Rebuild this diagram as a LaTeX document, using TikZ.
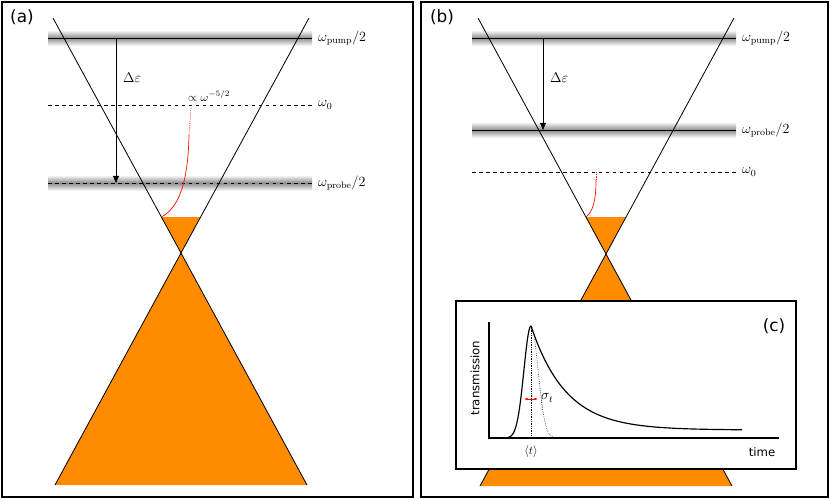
\documentclass[tikz,border=0pt]{standalone}
\usepackage{fontspec}
\newfontfamily\dejavu{DejaVu Sans}
\definecolor{org}{RGB}{255,140,0}
\usetikzlibrary{arrows.meta}
\begin{document}
\begin{tikzpicture}[x=0.03cm,y=-0.03cm,
  frame/.style={draw=black,line width=1.1pt},
  ln/.style={line width=0.7pt},
  lab/.style={anchor=west,inner sep=0pt,font=\large},
  plab/.style={font=\dejavu\Large,inner sep=0pt},
  band/.style={top color=white,bottom color=white,middle color=black!45}]
\useasboundingbox (0,0) rectangle (830,500);
\fill[white] (0,0) rectangle (830,500);
% ---------- panel (a)
\fill[org] (181,253) -- (55,485) -- (307,485) -- cycle;
\fill[org] (181,253) -- (161.4,217) -- (200.6,217) -- cycle;
\shade[band] (48,30) rectangle (312,46);
\shade[band] (48,175) rectangle (312,191);
\draw[ln] (48,38) -- (312,38);
\draw[ln,dashed] (48,105) -- (312,105);
\draw[ln,dashed] (48,183) -- (312,183);
\draw[ln] (53,18) -- (181,253) -- (55,485);
\draw[ln] (309,18) -- (181,253) -- (307,485);
\draw[ln,-{Triangle[length=6pt,width=5pt]}] (116,38) -- (116,183);
\node[lab] (de1) at (123,78) {$\Delta\varepsilon$};
\draw[red!90!orange,line width=0.6pt] (161.4,217) .. controls (178,208) and (188,185) .. (189,135);
\draw[red!90!orange,line width=0.6pt,densely dotted] (189,135) -- (191,108);
\node[lab,font=\normalsize] (pw) at (188,96) {$\propto\omega^{-5/2}$};
\node[lab] (pa) at (318,38) {$\omega_{\mathrm{pump}}/2$};
\node[lab] (oa) at (318,105) {$\omega_0$};
\node[lab] (ra) at (318,183) {$\omega_{\mathrm{probe}}/2$};
\node[plab] (la) at (22,17) {(a)};
\draw[frame] (2,2) rectangle (413,497);
% ---------- panel (b)
\fill[org] (606,254) -- (480,486) -- (732,486) -- cycle;
\fill[org] (606,254) -- (586,217) -- (626,217) -- cycle;
\shade[band] (472,30) rectangle (736,46);
\shade[band] (472,122) rectangle (736,138);
\draw[ln] (472,38) -- (736,38);
\draw[ln] (472,130) -- (736,130);
\draw[ln,dashed] (472,172) -- (736,172);
\draw[ln] (478,18) -- (606,254) -- (480,486);
\draw[ln] (734,18) -- (606,254) -- (732,486);
\draw[ln,-{Triangle[length=6pt,width=5pt]}] (543,38) -- (543,130);
\node[lab] (de2) at (550,78) {$\Delta\varepsilon$};
\draw[red!90!orange,line width=0.6pt] (586,217) .. controls (593,212) and (596,200) .. (596,180);
\draw[red!90!orange,line width=0.6pt,densely dotted] (596,180) -- (596,172);
\node[lab] (pb) at (742,38) {$\omega_{\mathrm{pump}}/2$};
\node[lab] (rb) at (742,130) {$\omega_{\mathrm{probe}}/2$};
\node[lab] (ob) at (742,172) {$\omega_0$};
\node[plab] (lb) at (442,17) {(b)};
\draw[frame] (421,2) rectangle (828,497);
% ---------- inset (c)
\draw[frame,fill=white] (456,301) rectangle (796,469);
\draw[line width=0.9pt] (489,322) -- (489,438) -- (779,438);
\draw[line width=0.5pt,densely dotted] (531,326) -- (531,438);
\draw[line width=0.5pt,densely dotted,domain=531:560,samples=40] plot (\x,{438-112*exp(-((\x-531)/10)^2)});
\draw[line width=1pt,domain=505:531,samples=50] plot (\x,{438-112*exp(-((\x-531)/10)^2)});
\draw[line width=1pt,domain=531:742,samples=80] plot (\x,{430-104*exp(-(\x-531)/35)});
\draw[red,line width=0.8pt,{Latex[length=3pt]}-{Latex[length=3pt]}] (524,399) -- (538,399);
\node[lab] (sg) at (541,398) {$\sigma_t$};
\node[inner sep=0pt] (tt) at (531,452) {$\langle t\rangle$};
\node[inner sep=0pt,font=\dejavu\normalsize] (tm) at (762,452) {time};
\node[inner sep=0pt,font=\dejavu\normalsize,rotate=90] (tr) at (475,378) {transmission};
\node[plab] (lc) at (774,326) {(c)};
\end{tikzpicture}
\end{document}
